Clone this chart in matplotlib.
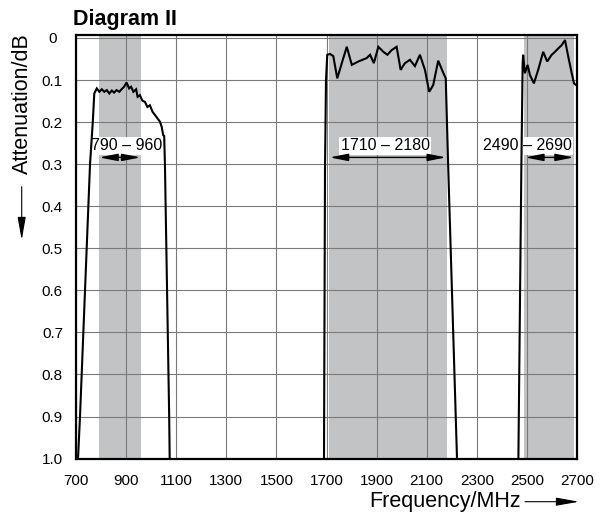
import matplotlib
matplotlib.use("Agg")
import matplotlib.pyplot as plt
import numpy as np

plt.rcParams['font.family'] = ['Liberation Sans', 'DejaVu Sans']

# Pass bands (MHz) and their labels
band_lo = [790, 1710, 2490]
band_hi = [960, 2180, 2690]

# Measured insertion loss, band 1
f1 = [708, 716, 756, 767, 773, 783, 793, 803, 813, 823, 833, 843, 852, 862, 873,
      882, 892, 902, 912, 920, 929, 940, 946, 955, 965, 975, 985, 995, 1005,
      1015, 1025, 1035, 1042, 1048, 1052, 1055, 1072, 1074]
a1 = [1.0, 0.9, 0.3, 0.2, 0.132, 0.120, 0.128, 0.122, 0.128, 0.124, 0.132,
      0.125, 0.130, 0.124, 0.128, 0.122, 0.116, 0.106, 0.120, 0.116, 0.128,
      0.122, 0.140, 0.136, 0.149, 0.152, 0.164, 0.160, 0.175, 0.183, 0.191,
      0.199, 0.211, 0.231, 0.233, 0.30, 0.90, 1.0]

# Band 2
f2 = [1690, 1694, 1698, 1703, 1714, 1727, 1743, 1761, 1781, 1801, 1827, 1860,
      1874, 1889, 1907, 1927, 1943, 1960, 1980, 1996, 2013, 2033, 2053, 2073,
      2093, 2110, 2126, 2146, 2164, 2176, 2186, 2221]
a2 = [1.0, 0.31, 0.10, 0.040, 0.038, 0.043, 0.096, 0.060, 0.021, 0.064, 0.056,
      0.048, 0.040, 0.060, 0.021, 0.033, 0.040, 0.029, 0.021, 0.076, 0.060,
      0.052, 0.067, 0.040, 0.076, 0.128, 0.112, 0.054, 0.080, 0.096, 0.31, 1.0]

# Band 3
f3 = [2466, 2478, 2483, 2485, 2492, 2503, 2512, 2528, 2545, 2565, 2581, 2599,
      2612, 2625, 2639, 2652, 2665, 2679, 2688, 2696, 2700]
a3 = [1.0, 0.30, 0.06, 0.040, 0.084, 0.064, 0.088, 0.108, 0.076, 0.033, 0.056,
      0.040, 0.033, 0.025, 0.017, 0.005, 0.044, 0.084, 0.108, 0.112, 0.112]

x_ticks = list(range(700, 2701, 200))
y_ticks = [0, 0.1, 0.2, 0.3, 0.4, 0.5, 0.6, 0.7, 0.8, 0.9, 1.0]
y_tick_labels = ["0", "0.1", "0.2", "0.3", "0.4", "0.5", "0.6", "0.7", "0.8", "0.9", "1.0"]

W, H = 604, 512
fig = plt.figure(figsize=(W / 100, H / 100), dpi=100)
ax = fig.add_axes([76 / W, 1 - 459 / H, (577 - 76) / W, (459 - 35) / H])

ax.set_xlim(700, 2700)
ax.set_ylim(1.001, -0.007)

shade = '#c1c3c5'
for lo, hi in zip(band_lo, band_hi):
    ax.axvspan(lo, hi, color=shade, lw=0, zorder=0)

ax.set_xticks(x_ticks)
ax.set_yticks(y_ticks)
ax.set_yticklabels(y_tick_labels)
ax.grid(True, color='#7a7a7a', lw=0.8, zorder=1)
ax.set_axisbelow(True)
ax.tick_params(axis='both', length=0, labelsize=11)
ax.tick_params(axis='x', pad=11)
ax.tick_params(axis='y', pad=17)
for lab in ax.get_yticklabels():
    lab.set_horizontalalignment('center')

for sp in ax.spines.values():
    sp.set_linewidth(1.6)
    sp.set_color('black')

for f, a in [(f1, a1), (f2, a2), (f3, a3)]:
    ax.plot(f, a, color='black', lw=1.5, zorder=6, clip_on=False,
            solid_joinstyle='miter')

# Band labels with range arrows
label_x = [902, 1934, 2502]
label_y = 0.256
arrow_y = 0.284
for lo, hi, lx in zip(band_lo, band_hi, label_x):
    ax.text(lx, label_y, f"{lo} \u2013 {hi}", ha='center', va='center',
            fontsize=11.5, zorder=5,
            bbox=dict(facecolor='white', edgecolor='none', pad=1.2))
    ax.annotate('', xy=(hi - 3, arrow_y), xytext=(lo + 3, arrow_y),
                arrowprops=dict(arrowstyle='<|-|>,head_length=1.1,head_width=0.22',
                                color='black', lw=1.0, shrinkA=0, shrinkB=0,
                                mutation_scale=10),
                zorder=5)

# Title and axis labels
fig.text(73 / W, 1 - 19 / H, 'Diagram II', fontweight='bold', fontsize=15.5,
         ha='left', va='center')
fig.text(22 / W, 1 - 104 / H, 'Attenuation/dB', rotation=90, fontsize=15.5,
         ha='center', va='center')
fig.text(521 / W, 1 - 507.5 / H, 'Frequency/MHz', fontsize=15.5,
         ha='right', va='baseline')

arrow_props = dict(arrowstyle='-|>,head_length=1.4,head_width=0.25',
                   color='black', lw=0.8, shrinkA=0, shrinkB=0, mutation_scale=10)
fig.add_artist(matplotlib.patches.FancyArrowPatch(
    (525 / W, 1 - 501.7 / H), (579 / W, 1 - 501.7 / H),
    transform=fig.transFigure, **arrow_props))
fig.add_artist(matplotlib.patches.FancyArrowPatch(
    (21.7 / W, 1 - 186.7 / H), (21.7 / W, 1 - 240 / H),
    transform=fig.transFigure, **arrow_props))

fig.savefig('out.png', dpi=100)
